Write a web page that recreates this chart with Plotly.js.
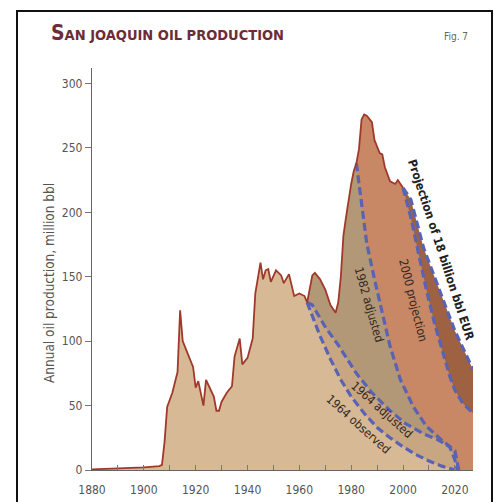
<!DOCTYPE html>
<html>
<head>
<meta charset="utf-8">
<script src="https://cdn.plot.ly/plotly-3.0.1.min.js"></script>
<style>html,body{margin:0;padding:0;background:#fff;}#chart{width:494px;height:502px;}</style>
</head>
<body>
<div id="chart"></div>
<script>
// Actual production (million bbl per year)
const prodYears = [1880,1890,1900,1906,1907,1908,1909,1911,1913,1914,1915,1917,1919,1920,1921,1923,1924,1927,1928,1929,1930,1932,1934,1935,1937,1938,1940,1942,1943,1945,1946,1947,1948,1949,1951,1953,1954,1956,1958,1960,1962,1963,1965,1966,1968,1970,1972,1974,1975,1976,1977,1978,1979,1980,1981,1982,1983,1984,1985,1986,1988,1989,1991,1992,1993,1995,1997,1998,2000];
const prodValues = [0.5,1,2,3,4,22,49,60,76,124,100,90,80,64,69,50,70,57,46,46,53,60,65,88,102,82,87,102,137,161,148,155,156,146,155,151,145,152,135,137,135,130,151,153,148,140,128,122,130,150,182,196,210,222,232,238,249,272,276,275,270,256,246,245,235,224,222,225,219];

// 1964 observed decline
const obs64Years = [1963,1965,1968,1972,1976,1980,1985,1990,1995,2000,2005,2010,2015,2020];
const obs64Values = [130,120,104,86,70,57,44,33,25,18,12,7,3,0];
// 1964 adjusted decline
const adj64Years = [1963,1965,1970,1975,1982,1988,1995,2001,2008,2013,2018,2020,2021];
const adj64Values = [130,128,111,97,75,60,46,36,28,24,18,8,0];
// 1982 adjusted decline
const adj82Years = [1982,1984,1986,1989,1992,1995,1999,2004,2009,2015,2020,2021.5];
const adj82Values = [238,205,176,148,122,96,70,49,34,23,15,0];
// 2000 projection
const proj00Years = [2000,2003,2006,2009,2012,2015,2018,2020,2023,2027];
const proj00Values = [219,196,168,140,115,93,73,62,52,44];
// Projection of 18 billion bbl EUR
const eurYears = [2000,2003,2008,2014,2020,2027];
const eurValues = [219,210,172,140,108,78];

const xTicks = [1880,1900,1920,1940,1960,1980,2000,2020];
const yTicks = [0,50,100,150,200,250,300];

const FONT = "'Liberation Sans Narrow','DejaVu Sans Condensed','Arial Narrow',sans-serif";

function joinProd(cut, ys, vs) {
  const X = [], Y = [];
  for (let i = 0; i < prodYears.length; i++) {
    if (prodYears[i] < cut) { X.push(prodYears[i]); Y.push(prodValues[i]); }
  }
  for (let i = 0; i < ys.length; i++) { X.push(ys[i]); Y.push(vs[i]); }
  return {X, Y};
}

function fillTrace(cut, ys, vs, color) {
  const d = joinProd(cut, ys, vs);
  return {x: d.X, y: d.Y, type: 'scatter', mode: 'lines', fill: 'tozeroy',
          fillcolor: color, line: {width: 0, color: color}, hoverinfo: 'skip', showlegend: false};
}
function dashTrace(ys, vs) {
  return {x: ys, y: vs, type: 'scatter', mode: 'lines',
          line: {color: '#5a62b4', width: 3.2, dash: '8px,4px'}, hoverinfo: 'skip', showlegend: false};
}

const traces = [
  fillTrace(2000, eurYears, eurValues, '#9e6243'),
  fillTrace(2000, proj00Years, proj00Values, '#c88765'),
  fillTrace(1982, adj82Years, adj82Values, '#b39877'),
  fillTrace(1963, adj64Years, adj64Values, '#c9a682'),
  fillTrace(1963, obs64Years, obs64Values, '#d7b995'),
  dashTrace(obs64Years, obs64Values),
  dashTrace(adj64Years, adj64Values),
  dashTrace(adj82Years, adj82Values),
  dashTrace(proj00Years, proj00Values),
  dashTrace(eurYears, eurValues),
  {x: prodYears, y: prodValues, type: 'scatter', mode: 'lines',
   line: {color: '#a0392b', width: 1.8}, hoverinfo: 'skip', showlegend: false}
];

const L = 92, R = 21, T = 68, B = 32, W = 494, H = 502;
const pw = W - L - R, ph = H - T - B;
const px = p => (p - L) / pw;
const py = p => (H - B - p) / ph;

const ann = (text, x, y, opts) => Object.assign({text, x: px(x), y: py(y), xref: 'paper', yref: 'paper',
  showarrow: false, xanchor: 'center', yanchor: 'middle'}, opts);

const layout = {
  width: W, height: H,
  margin: {l: L, r: R, t: T, b: B, pad: 0},
  paper_bgcolor: '#ffffff', plot_bgcolor: 'rgba(0,0,0,0)',
  font: {family: FONT, color: '#555'},
  xaxis: {range: [1880, 2027], tickmode: 'array', tickvals: xTicks, ticks: 'inside', ticklen: 5,
          tickcolor: '#777', tickwidth: 1, showline: true, linecolor: '#666', linewidth: 1.2,
          showgrid: false, zeroline: false, fixedrange: true, ticklabelstandoff: 8,
          minor: {ticks: 'inside', dtick: 10, tick0: 1880, ticklen: 5, tickcolor: '#777', showgrid: false},
          tickfont: {family: FONT, size: 12, color: '#555'}},
  yaxis: {range: [0, 312], tickmode: 'array', tickvals: yTicks, ticks: 'outside', ticklen: 6,
          tickcolor: '#777', showline: true, linecolor: '#666', linewidth: 1.2,
          showgrid: false, zeroline: false, fixedrange: true,
          tickfont: {family: FONT, size: 12, color: '#555'}},
  shapes: [
    {type: 'rect', xref: 'paper', yref: 'paper', x0: px(17), x1: px(492), y0: py(505), y1: py(11),
     line: {color: '#111', width: 2}, fillcolor: 'rgba(0,0,0,0)'}
  ],
  annotations: [
    ann('<b><span style="font-size:21px">S</span>AN JOAQUIN OIL PRODUCTION</b>', 49, 33,
        {xanchor: 'left', font: {family: FONT, size: 14.5, color: '#6e2c36'}}),
    ann('Fig. 7', 456, 37, {font: {family: FONT, size: 10, color: '#666'}}),
    ann('Annual oil production, million bbl', 49, 283, {textangle: -90, font: {family: FONT, size: 13.5, color: '#555'}}),
    ann('1964 observed', 358, 424, {textangle: 42, font: {family: FONT, size: 12, color: '#33291f'}}),
    ann('1964 adjusted', 382, 410, {textangle: 42, font: {family: FONT, size: 12, color: '#33291f'}}),
    ann('1982 adjusted', 369, 305, {textangle: 74, font: {family: FONT, size: 12, color: '#33291f'}}),
    ann('2000 projection', 413, 300, {textangle: 76, font: {family: FONT, size: 12, color: '#33291f'}}),
    ann('<b>Projection of 18 billion bbl EUR</b>', 441, 250, {textangle: 72, font: {family: FONT, size: 12, color: '#222'}})
  ]
};

Plotly.newPlot('chart', traces, layout, {displayModeBar: false, staticPlot: true});
</script>
</body>
</html>
